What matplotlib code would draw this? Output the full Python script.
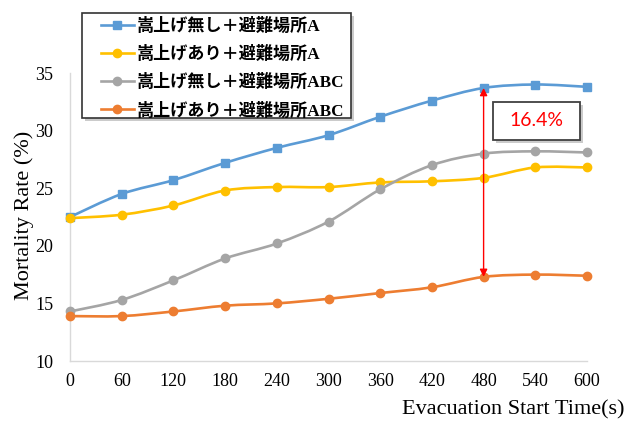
import numpy as np
import matplotlib
matplotlib.use("Agg")
import matplotlib.pyplot as plt
from matplotlib.path import Path
from matplotlib.patches import PathPatch, Rectangle
from matplotlib.lines import Line2D
import matplotlib.patheffects as pe

# Evacuation start time (s)
times = [0, 60, 120, 180, 240, 300, 360, 420, 480, 540, 600]

# Mortality rate (%) for each scenario
no_raise_A = [22.5, 24.5, 25.7, 27.2, 28.5, 29.6, 31.2, 32.6, 33.7, 34.0, 33.8]
raise_A = [22.4, 22.7, 23.5, 24.8, 25.1, 25.1, 25.5, 25.6, 25.9, 26.8, 26.8]
no_raise_ABC = [14.3, 15.3, 17.0, 18.9, 20.2, 22.1, 24.9, 27.0, 28.0, 28.2, 28.1]
raise_ABC = [13.9, 13.9, 14.3, 14.8, 15.0, 15.4, 15.9, 16.4, 17.3, 17.5, 17.4]

labels = [
    "嵩上げ無し＋避難場所A",
    "嵩上げあり＋避難場所A",
    "嵩上げ無し＋避難場所ABC",
    "嵩上げあり＋避難場所ABC",
]
colors = ["#5B9BD5", "#FFC000", "#A5A5A5", "#ED7D31"]
markers = ["s", "o", "o", "o"]

x_ticks = [0, 60, 120, 180, 240, 300, 360, 420, 480, 540, 600]
y_ticks = [10, 15, 20, 25, 30, 35]

gap_label = "16.4%"
gap_time = 480

serif = ["Liberation Serif", "DejaVu Serif"]
legend_font = ["Liberation Serif", "Noto Sans CJK JP"]


def smooth_path(xs, ys):
    """Cubic Bezier path through the points (Catmull-Rom style smoothing)."""
    pts = np.column_stack([xs, ys]).astype(float)
    n = len(pts)
    verts = [pts[0]]
    codes = [Path.MOVETO]
    for i in range(n - 1):
        p0 = pts[i - 1] if i > 0 else pts[i]
        p1 = pts[i]
        p2 = pts[i + 1]
        p3 = pts[i + 2] if i + 2 < n else pts[i + 1]
        c1 = p1 + (p2 - p0) / 6.0
        c2 = p2 - (p3 - p1) / 6.0
        verts += [c1, c2, p2]
        codes += [Path.CURVE4] * 3
    return Path(verts, codes)


fig = plt.figure(figsize=(6.39, 4.24), dpi=100)
W, H = 639, 424
ax = fig.add_axes([70 / W, 1 - 361 / H, (587 - 70) / W, (361 - 73) / H])

series = [no_raise_A, raise_A, no_raise_ABC, raise_ABC]
handles = []
for ys, c, m, lab in zip(series, colors, markers, labels):
    patch = PathPatch(smooth_path(times, ys), fill=False, edgecolor=c,
                      linewidth=1.9, capstyle="round", joinstyle="round", zorder=3)
    ax.add_patch(patch)
    ms = 5.5 if m == "s" else 6
    ax.plot(times, ys, linestyle="none", marker=m, markersize=ms,
            color=c, markeredgecolor=c, zorder=4, clip_on=False)
    handles.append(Line2D([0], [0], color=c, linewidth=1.9, marker=m,
                          markersize=ms, label=lab))

ax.set_xlim(0, 600)
ax.set_ylim(10, 35)
ax.set_xticks(x_ticks)
ax.set_yticks(y_ticks)
ax.tick_params(axis="both", length=0, labelsize=13)
ax.tick_params(axis="x", pad=9)
ax.tick_params(axis="y", pad=12)
for lab in ax.get_xticklabels() + ax.get_yticklabels():
    lab.set_fontfamily(serif)

for side in ["top", "right"]:
    ax.spines[side].set_visible(False)
for side in ["left", "bottom"]:
    ax.spines[side].set_color("#D9D9D9")
    ax.spines[side].set_linewidth(1.0)

fig.text(24 / W, 1 - 215 / H, "Mortality Rate (%)", rotation=90,
         ha="center", va="center", fontsize=16, fontfamily=serif)
fig.text(625 / W, 1 - 410 / H, "Evacuation Start Time(s)",
         ha="right", va="center", fontsize=16, fontfamily=serif)

# Gap between the two extreme scenarios
i_gap = times.index(gap_time)
ax.annotate("", xy=(gap_time, raise_ABC[i_gap]), xytext=(gap_time, no_raise_A[i_gap]),
            arrowprops=dict(arrowstyle="<|-|>", color="red", lw=1.0,
                            mutation_scale=11, shrinkA=0, shrinkB=0),
            zorder=5)

shadow = [pe.SimplePatchShadow(offset=(2, -2), shadow_rgbFace="#999999", alpha=0.5),
          pe.Normal()]

box = Rectangle((491, 29.2), 101, 3.3, facecolor="white", edgecolor="#404040",
                linewidth=1.3, zorder=5, path_effects=shadow)
ax.add_patch(box)
ax.text(541.5, 30.85, gap_label, ha="center", va="center", color="red",
        fontsize=14, fontfamily=["Lato", "DejaVu Sans"], zorder=6)

# Legend frame drawn separately for a wider left margin
frame = Rectangle((82 / W, 1 - 118 / H), (351 - 82) / W, (118 - 13) / H,
                  transform=fig.transFigure, facecolor="white", edgecolor="#333333",
                  linewidth=1.2, zorder=10, path_effects=shadow)
fig.patches.append(frame)

leg = fig.legend(handles=handles, loc="upper left",
                 bbox_to_anchor=(96 / W, 1 - 13 / H), borderaxespad=0,
                 prop=dict(family=legend_font, weight="bold", size=12.3),
                 frameon=False, handlelength=1.9, handletextpad=0.2,
                 labelspacing=0.64, borderpad=0.3)
leg.set_zorder(11)

fig.savefig("out.png", dpi=100)
